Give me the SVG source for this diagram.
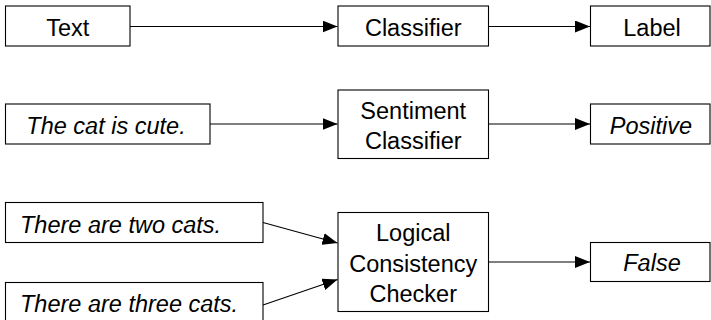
<svg xmlns="http://www.w3.org/2000/svg" width="711" height="320" viewBox="0 0 711 320">
<defs>
<marker id="arr" markerWidth="15" markerHeight="12" refX="15" refY="6" orient="auto" markerUnits="userSpaceOnUse">
<path d="M0,0 L15,6 L0,12 Z" fill="#000"/>
</marker>
<style>
.box{fill:#fff;stroke:#000;stroke-width:1.1}
.t{font-family:"Liberation Sans",Arial,sans-serif;font-size:23.5px;fill:#000;text-anchor:middle}
.i{font-style:italic}
.s{text-anchor:start}
.edge{stroke:#000;stroke-width:1.1;fill:none;marker-end:url(#arr)}
</style>
</defs>
<g id="connectors">
<line class="edge" x1="130" y1="26.5" x2="337.5" y2="26.5"/>
<line class="edge" x1="489" y1="26.5" x2="590" y2="26.5"/>
<line class="edge" x1="210" y1="124" x2="337.5" y2="124"/>
<line class="edge" x1="489" y1="124" x2="590" y2="124"/>
<line class="edge" x1="263" y1="222.5" x2="337.5" y2="243"/>
<line class="edge" x1="263" y1="305" x2="337.5" y2="279.5"/>
<line class="edge" x1="489" y1="262" x2="590" y2="262"/>
</g>
<g id="text-node">
<rect class="box" x="5.5" y="6" width="124.5" height="40"/>
<text class="t" x="67.75" y="36">Text</text>
</g>
<g id="classifier">
<rect class="box" x="338" y="6" width="150.5" height="40"/>
<text class="t" x="413.25" y="36">Classifier</text>
</g>
<g id="label">
<rect class="box" x="590.5" y="6" width="119.5" height="40"/>
<text class="t" x="652" y="36">Label</text>
</g>
<g id="cat-cute">
<rect class="box" x="5.5" y="104" width="204.5" height="40"/>
<text class="t i" x="106" y="134">The cat is cute.</text>
</g>
<g id="sentiment-classifier">
<rect class="box" x="338" y="90" width="150.5" height="68.5"/>
<text class="t" x="413.25" y="118.5">Sentiment</text>
<text class="t" x="413.25" y="148.5">Classifier</text>
</g>
<g id="positive">
<rect class="box" x="590.5" y="104" width="119.5" height="40"/>
<text class="t i" x="651" y="134">Positive</text>
</g>
<g id="two-cats">
<rect class="box" x="5.5" y="202.5" width="257.5" height="40"/>
<text class="t i s" x="20" y="232.5">There are two cats.</text>
</g>
<g id="three-cats">
<rect class="box" x="5.5" y="282.5" width="257.5" height="40"/>
<text class="t i s" x="20" y="312">There are three cats.</text>
</g>
<g id="checker">
<rect class="box" x="338" y="212.5" width="150.5" height="99"/>
<text class="t" x="413.25" y="240.5">Logical</text>
<text class="t" x="413.25" y="271.5">Consistency</text>
<text class="t" x="413.25" y="301.5">Checker</text>
</g>
<g id="false">
<rect class="box" x="590.5" y="242.5" width="119.5" height="39"/>
<text class="t i" x="652" y="270.5">False</text>
</g>
</svg>
